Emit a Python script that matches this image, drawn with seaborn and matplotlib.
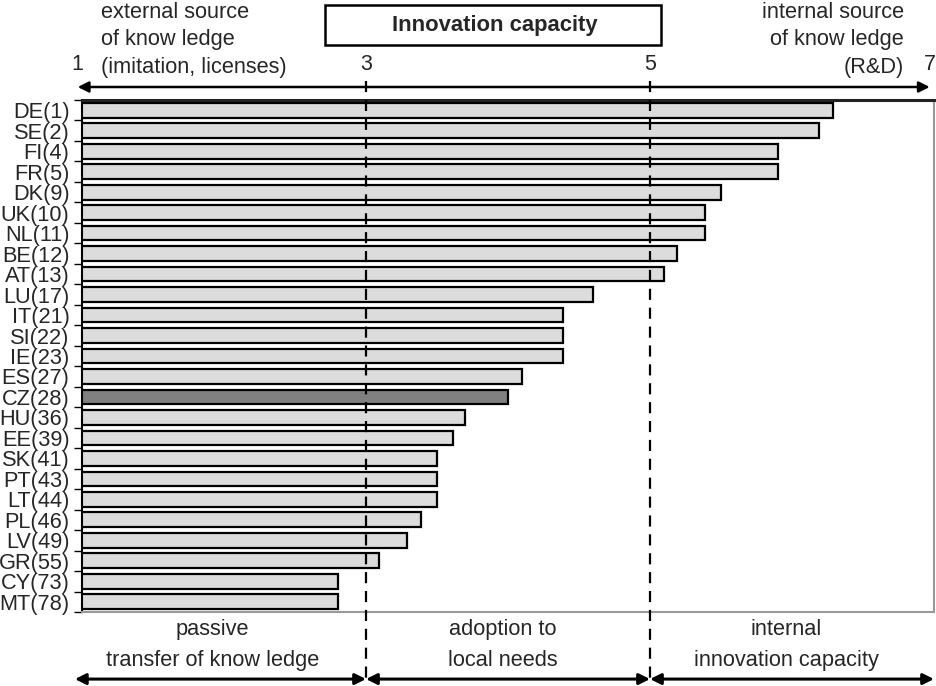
import numpy as np
import pandas as pd
import seaborn as sns
import matplotlib.pyplot as plt
from matplotlib.patches import Rectangle

# countries (rank) and innovation capacity score
countries = ['DE(1)', 'SE(2)', 'FI(4)', 'FR(5)', 'DK(9)', 'UK(10)', 'NL(11)', 'BE(12)',
             'AT(13)', 'LU(17)', 'IT(21)', 'SI(22)', 'IE(23)', 'ES(27)', 'CZ(28)', 'HU(36)',
             'EE(39)', 'SK(41)', 'PT(43)', 'LT(44)', 'PL(46)', 'LV(49)', 'GR(55)', 'CY(73)', 'MT(78)']
scores = [6.29, 6.19, 5.9, 5.9, 5.5, 5.39, 5.39, 5.19, 5.1, 4.6, 4.39, 4.39, 4.39, 4.1, 4.0,
          3.7, 3.61, 3.5, 3.5, 3.5, 3.39, 3.29, 3.09, 2.8, 2.8]
highlight = 'CZ(28)'

x_ticks = [1, 3, 5, 7]
zone_edges = [3, 5]
zone_labels = ['passive\ntransfer of know ledge', 'adoption to\nlocal needs', 'internal\ninnovation capacity']
zone_centers = [1.92, 3.96, 5.96]

sns.set_theme(style='white')
plt.rcParams['font.family'] = ['Liberation Sans', 'DejaVu Sans']

df = pd.DataFrame({'country': countries, 'score': scores})
palette = {c: ('#808080' if c == highlight else '#dcdcdc') for c in countries}

fig = plt.figure(figsize=(9.37, 6.86), dpi=100)
ax = fig.add_axes([82 / 937, 1 - 612 / 686, 852 / 937, 512 / 686])

sns.barplot(data=df, x='score', y='country', hue='country', palette=palette, legend=False,
            width=0.72, edgecolor='black', linewidth=1.6, saturation=1, ax=ax)

ax.set_xlim(1, 7)
ax.set_ylim(len(countries) - 0.5, -0.5)
ax.set_xticks([])
ax.set_xlabel('')
ax.set_ylabel('')
ax.tick_params(axis='y', which='major', length=0, labelsize=15.7, pad=9)
ax.set_yticks(np.arange(-0.5, len(countries), 1), minor=True)
ax.tick_params(axis='y', which='minor', left=True, length=6, width=1, color='black', direction='out')

for side, col, lw in [('left', 'black', 1.5), ('top', '#222222', 2.2),
                      ('right', '#999999', 1.5), ('bottom', '#999999', 1.5)]:
    ax.spines[side].set_visible(True)
    ax.spines[side].set_color(col)
    ax.spines[side].set_linewidth(lw)

trans = ax.get_xaxis_transform()

# dashed zone separators
for xe in zone_edges:
    ax.plot([xe, xe], [1.037, -0.139], transform=trans, clip_on=False,
            color='black', lw=1.6, ls=(0, (5, 3.5)), zorder=5)

# tick numbers above the top arrow
for t in x_ticks:
    xt = t - 0.03 if t in (1, 7) else t
    ax.text(xt, 1.07, str(t), transform=trans, ha='center', va='center', fontsize=15.5)

# top double arrow
ax.annotate('', xy=(0.97, 1.0254), xytext=(6.97, 1.0254), xycoords=trans, textcoords=trans,
            arrowprops=dict(arrowstyle='<|-|>', color='black', lw=1.8, mutation_scale=16,
                            shrinkA=0, shrinkB=0), annotation_clip=False)

# bottom arrows and labels
bounds = [0.95] + zone_edges + [7.0]
for i in range(3):
    ax.annotate('', xy=(bounds[i], -0.131), xytext=(bounds[i + 1], -0.131),
                xycoords=trans, textcoords=trans,
                arrowprops=dict(arrowstyle='<|-|>', color='black', lw=2.2, mutation_scale=16,
                                shrinkA=0, shrinkB=0), annotation_clip=False)
    l1, l2 = zone_labels[i].split('\n')
    ax.text(zone_centers[i], -0.035, l1, transform=trans, ha='center', va='center', fontsize=15.7)
    ax.text(zone_centers[i], -0.094, l2, transform=trans, ha='center', va='center', fontsize=15.7)

# corner captions
for j, line in enumerate(['external source', 'of know ledge', '(imitation, licenses)']):
    fig.text(101 / 937, 1 - (12 + 28 * j) / 686, line, ha='left', va='center', fontsize=15.7)
for j, line in enumerate(['internal source', 'of know ledge', '(R&D)']):
    fig.text(904 / 937, 1 - (12 + 28 * j) / 686, line, ha='right', va='center', fontsize=15.7)

# boxed title
fig.patches.append(Rectangle((325 / 937, 1 - 45 / 686), 336 / 937, 40 / 686,
                             transform=fig.transFigure, fill=False, edgecolor='black', lw=1.8))
fig.text(495 / 937, 1 - 26 / 686, 'Innovation capacity', ha='center', va='center',
         fontsize=15.8, fontweight='bold')

fig.savefig('out.png', dpi=100)
